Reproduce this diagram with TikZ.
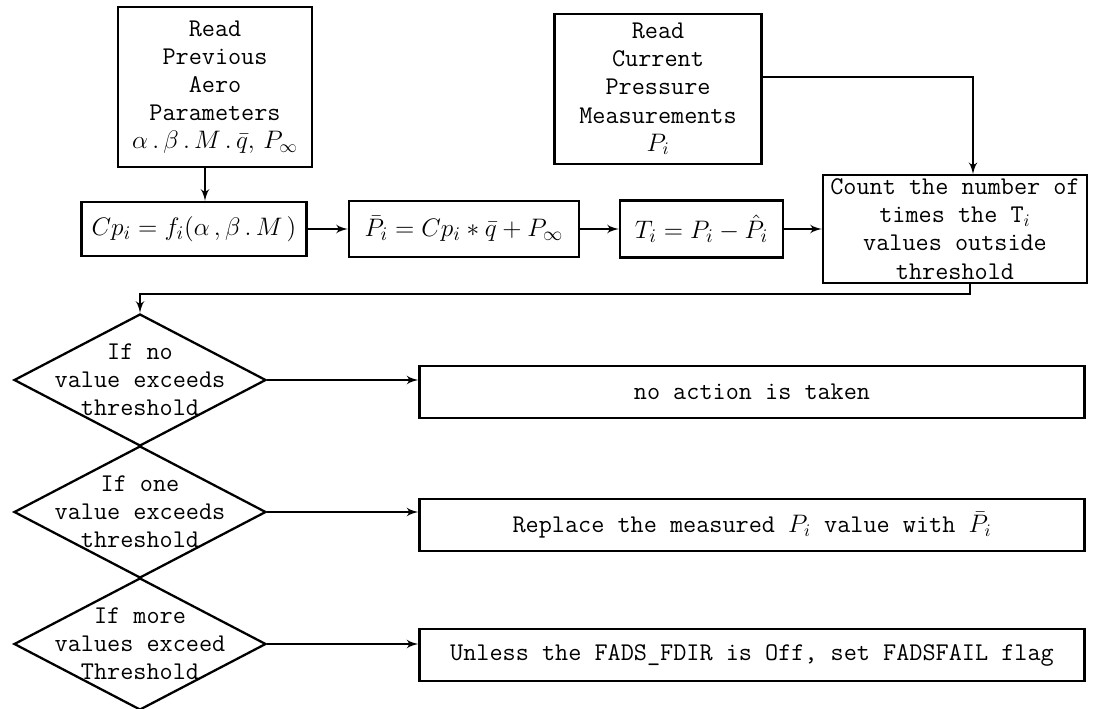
\documentclass[tikz,border=0pt]{standalone}
\usepackage{amsmath}
\usepackage{fontspec}
\usepackage{tikz}
\usetikzlibrary{arrows}
\usetikzlibrary{shapes.geometric}

\begin{document}
\begin{tikzpicture}
      \tikzset{
        box/.style={draw, rectangle, line width=1.3pt, inner sep=2pt, align=center, font=\fontsize{14.5}{16}\selectfont\ttfamily},
        eq/.style={box, font=\fontsize{15}{17}\selectfont},
        act/.style={box, minimum width=13.3cm, minimum height=1.04cm, node distance=2.64cm},
        cond/.style={draw, diamond, line width=1.3pt, inner sep=0pt, minimum width=5.04cm, minimum height=2.64cm, node distance=2.64cm,
          label={[align=center, font=\fontsize{14.5}{16}\selectfont\ttfamily]center:#1}},
        line/.style={draw, -latex', line width=1.3pt},
      }
      \useasboundingbox (0,0) rectangle (21.94,-14.18);

      \node [box, minimum width=3.88cm, minimum height=3.2cm] (prev) at (4.30,-1.74)
        {Read\\Previous\\Aero\\Parameters\\$\alpha\,.\,\beta\,.\,M\,.\,\bar{q},\,P_\infty$};
      \node [box, minimum width=4.14cm, minimum height=3.0cm] (cur) at (13.16,-1.78)
        {Read\\Current\\Pressure\\Measurements\\$P_i$};

      \node [eq, minimum width=4.5cm, minimum height=1.08cm] (cp) at (3.88,-4.58) {$Cp_i = f_i(\alpha\,,\beta\,.\,M\,)$};
      \node [eq, minimum width=4.6cm, minimum height=1.12cm, right of=cp, node distance=5.4cm] (pbar) {$\bar{P}_i = Cp_i * \bar{q} + P_\infty$};
      \node [eq, minimum width=3.26cm, minimum height=1.14cm, right of=pbar, node distance=4.75cm] (tdiff) {$T_i = P_i - \hat{P}_i$};
      \node [box, minimum width=5.28cm, minimum height=2.14cm, right of=tdiff, node distance=5.07cm] (count)
        {Count the number of\\times the T$_i$\\values outside\\threshold};

      % the three threshold cases
      \node [cond={If no\\value exceeds\\threshold}] (none) at (2.8,-7.6) {};
      \node [cond={If one\\value exceeds\\threshold}, below of=none] (one) {};
      \node [cond={If more\\values exceed\\Threshold}, below of=one] (more) {};

      \node [act] (act1) at (15.04,-7.84) {no action is taken};
      \node [act, below of=act1, node distance=2.66cm] (act2) {Replace the measured $P_i$ value with $\bar{P}_i$};
      \node [act, below of=act2, node distance=2.6cm] (act3) {Unless the FADS\_FDIR is Off, set FADSFAIL flag};

      \path [line] ([xshift=-0.2cm]prev.south)--([xshift=-0.2cm]prev.south |- cp.north);
      \path [line] (cp)--(pbar);
      \path [line] (pbar)--(tdiff);
      \path [line] (tdiff)--(count);
      \path [line] ([yshift=0.24cm]cur.east) -| ([xshift=0.36cm]count.north);
      \path [line] ([xshift=0.3cm]count.south) -- ++(0,-0.2) -| (none.north);
      \path [line] (none.east)--(none.east -| act1.west);
      \path [line] (one.east)--(one.east -| act2.west);
      \path [line] (more.east)--(more.east -| act3.west);
      \end{tikzpicture}
\end{document}
